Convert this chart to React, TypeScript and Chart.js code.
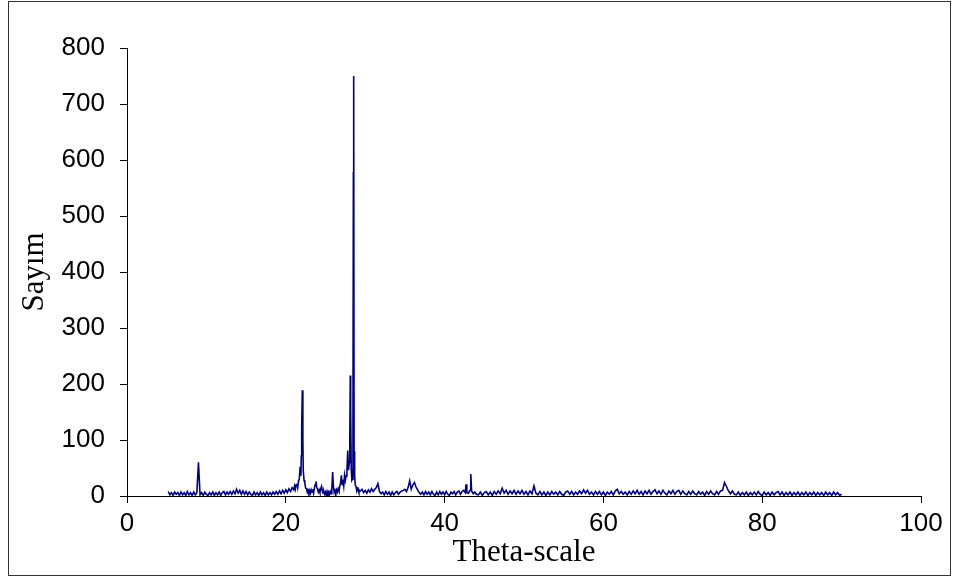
import React, { useEffect, useRef } from "react";
import { Chart, registerables } from "chart.js";

Chart.register(...registerables);

// ---- Data ----
const lowTheta = [
  5.2, 5.4, 5.6, 5.8, 6.0, 6.2, 6.4, 6.6, 6.8, 7.0,
  7.2, 7.4, 7.6, 7.8, 8.0, 8.2, 8.4, 8.6, 8.8, 9.0,
  9.2, 9.4, 9.6, 9.8, 10.0, 10.2, 10.4, 10.6, 10.8, 11.0,
  11.2, 11.4, 11.6, 11.8, 12.0, 12.2, 12.4, 12.6, 12.8, 13.0,
  13.2, 13.4, 13.6, 13.8, 14.0, 14.2, 14.4, 14.6, 14.8, 15.0,
  15.2, 15.4, 15.6, 15.8, 16.0, 16.2, 16.4, 16.6, 16.8, 17.0,
  17.2, 17.4, 17.6, 17.8, 18.0, 18.2, 18.4, 18.6, 18.8, 19.0,
  19.2, 19.4, 19.6, 19.8, 20.0, 20.2, 20.4, 20.6, 20.8,
];
const lowCounts = [
  8, 2, 6, 1, 7, 3, 6, 1, 7, 2,
  6, 1, 8, 2, 6, 1, 7, 2, 6, 60,
  2, 6, 1, 7, 3, 1, 6, 2, 7, 1,
  6, 2, 7, 1, 6, 8, 2, 7, 3, 8,
  3, 9, 4, 12, 5, 10, 3, 9, 3, 8,
  2, 7, 3, 1, 7, 2, 6, 1, 7, 2,
  6, 1, 7, 2, 6, 2, 7, 3, 8, 3,
  9, 4, 10, 5, 11, 6, 13, 8, 15,
];

const peakTheta = [
  21.0, 21.1, 21.2, 21.3, 21.4, 21.5, 21.6, 21.7, 21.8, 21.9,
  21.95, 22.0, 22.08, 22.15, 22.2, 22.3, 22.4, 22.5, 22.6, 22.7,
  22.8, 22.9, 23.0, 23.1, 23.2, 23.3, 23.4, 23.5, 23.6, 23.7,
  23.8, 23.9, 24.0, 24.1, 24.2, 24.3, 24.4, 24.5, 24.6, 24.7,
  24.8, 24.9, 25.0, 25.1, 25.2, 25.3, 25.4, 25.5, 25.6, 25.7,
  25.8, 25.9, 26.0, 26.1, 26.2, 26.3, 26.4, 26.5, 26.6, 26.7,
  26.8, 26.9, 27.0, 27.1, 27.2, 27.3, 27.4, 27.5, 27.6, 27.7,
  27.8, 27.9, 28.0, 28.06, 28.12, 28.17, 28.24, 28.32, 28.4, 28.46,
  28.51, 28.55, 28.6, 28.67, 28.75, 28.85, 28.95, 29.1, 29.2,
];
const peakCounts = [
  11, 18, 12, 20, 22, 15, 27, 30, 52, 36,
  72, 120, 189, 98, 45, 28, 23, 14, 13, 7,
  11, 6, 10, 5, 11, 7, 12, 5, 14, 20,
  26, 15, 12, 7, 11, 6, 13, 17, 9, 5,
  8, 3, 7, 2, 8, 3, 7, 2, 8, 4,
  12, 43, 16, 6, 10, 5, 11, 7, 13, 9,
  18, 24, 37, 20, 29, 18, 37, 28, 36, 45,
  81, 46, 60, 100, 215, 153, 48, 28, 30, 120,
  577, 750, 80, 35, 20, 16, 9, 13, 7,
];

const midTheta = [
  29.4, 29.6, 29.8, 30.0, 30.2, 30.4, 30.6, 30.8, 31.0, 31.2,
  31.4, 31.6, 31.8, 32.0, 32.2, 32.4, 32.6, 32.8, 33.0, 33.2,
  33.4, 33.6, 33.8, 34.0, 34.2, 34.4, 34.6, 34.8, 35.0, 35.2,
  35.4, 35.6, 35.8, 36.0, 36.2, 36.4, 36.6, 36.8, 37.0, 37.2,
  37.4, 37.6, 37.8, 38.0, 38.2, 38.4, 38.6, 38.8, 39.0, 39.2,
  39.4, 39.6, 39.8, 40.0, 40.2, 40.4, 40.6, 40.8, 41.0, 41.2,
  41.4, 41.6, 41.8, 42.0, 42.2, 42.4, 42.6, 42.7, 42.8, 43.0,
  43.2, 43.3, 43.4, 43.6, 43.8, 44.0,
];
const midCounts = [
  9, 12, 6, 10, 5, 11, 7, 13, 8, 12,
  15, 22, 8, 4, 7, 2, 8, 3, 7, 1,
  7, 2, 6, 8, 3, 7, 9, 10, 12, 8,
  15, 27, 12, 20, 24, 16, 11, 6, 3, 7,
  2, 8, 3, 7, 2, 8, 3, 1, 7, 2,
  8, 3, 7, 2, 8, 3, 1, 7, 4, 8,
  2, 7, 9, 3, 8, 10, 6, 21, 6, 5,
  10, 39, 9, 4, 7, 3,
];

const highTheta = [
  44.25, 44.5, 44.75, 45.0, 45.25, 45.5, 45.75, 46.0, 46.25, 46.5,
  46.75, 47.0, 47.25, 47.5, 47.75, 48.0, 48.25, 48.5, 48.75, 49.0,
  49.25, 49.5, 49.75, 50.0, 50.25, 50.5, 50.75, 51.0, 51.25, 51.5,
  51.75, 52.0, 52.25, 52.5, 52.75, 53.0, 53.25, 53.5, 53.75, 54.0,
  54.25, 54.5, 54.75, 55.0, 55.25, 55.5, 55.75, 56.0, 56.25, 56.5,
  56.75, 57.0, 57.25, 57.5, 57.75, 58.0, 58.25, 58.5, 58.75, 59.0,
  59.25, 59.5, 59.75, 60.0, 60.25, 60.5, 60.75, 61.0, 61.25, 61.5,
  61.75, 62.0, 62.25, 62.5, 62.75, 63.0, 63.25, 63.5, 63.75, 64.0,
  64.25, 64.5, 64.75, 65.0, 65.25, 65.5, 65.75, 66.0, 66.25, 66.5,
  66.75, 67.0, 67.25, 67.5, 67.75, 68.0, 68.25, 68.5, 68.75, 69.0,
  69.25, 69.5, 69.75, 70.0, 70.25, 70.5, 70.75, 71.0, 71.25, 71.5,
  71.75, 72.0, 72.25, 72.5, 72.75, 73.0, 73.25, 73.5, 73.75, 74.0,
  74.25, 74.5, 74.75, 75.0, 75.25, 75.5, 75.75, 76.0, 76.25, 76.5,
  76.75, 77.0, 77.25, 77.5, 77.75, 78.0, 78.25, 78.5, 78.75, 79.0,
  79.25, 79.5, 79.75, 80.0, 80.25, 80.5, 80.75, 81.0, 81.25, 81.5,
  81.75, 82.0, 82.25, 82.5, 82.75, 83.0, 83.25, 83.5, 83.75, 84.0,
  84.25, 84.5, 84.75, 85.0, 85.25, 85.5, 85.75, 86.0, 86.25, 86.5,
  86.75, 87.0, 87.25, 87.5, 87.75, 88.0, 88.25, 88.5, 88.75, 89.0,
  89.25, 89.5, 89.75, 90.0,
];
const highCounts = [
  2, 7, 1, 6, 8, 2, 7, 1, 8, 3,
  9, 4, 14, 5, 10, 3, 9, 4, 10, 3,
  9, 4, 10, 3, 8, 2, 9, 4, 18, 5,
  2, 8, 2, 7, 1, 7, 2, 8, 3, 7,
  2, 8, 3, 1, 7, 9, 3, 8, 2, 7,
  3, 9, 4, 11, 5, 10, 3, 7, 2, 8,
  3, 8, 2, 7, 1, 7, 3, 8, 2, 9,
  12, 4, 8, 3, 7, 2, 8, 3, 9, 4,
  10, 3, 8, 2, 9, 4, 10, 3, 8, 11,
  4, 9, 3, 10, 5, 2, 9, 4, 10, 3,
  8, 10, 3, 9, 4, 2, 8, 3, 9, 4,
  2, 8, 3, 7, 1, 8, 3, 9, 4, 2,
  8, 3, 9, 10, 24, 17, 9, 4, 9, 3,
  2, 7, 1, 6, 2, 7, 1, 6, 2, 7,
  2, 8, 3, 1, 7, 2, 6, 1, 7, 2,
  6, 8, 2, 7, 1, 6, 2, 7, 1, 6,
  2, 7, 1, 6, 2, 7, 1, 6, 2, 7,
  1, 6, 2, 6, 1, 7, 2, 6, 1, 7,
  2, 6, 1, 3,
];

const xTickStep = 20;
const yTickStep = 100;
const xTitle = "Theta-scale";
const yTitle = "Sayım";

function buildPoints() {
  const thetas = [...lowTheta, ...peakTheta, ...midTheta, ...highTheta];
  const counts = [...lowCounts, ...peakCounts, ...midCounts, ...highCounts];
  return thetas.map((x, i) => ({ x, y: counts[i] }));
}

const frameBorder = {
  id: "frameBorder",
  afterDraw(chart: any) {
    const ctx = chart.ctx;
    ctx.save();
    ctx.strokeStyle = "#333333";
    ctx.lineWidth = 1;
    ctx.strokeRect(8.5, 1.5, 942, 574);
    ctx.restore();
  },
};

export default function App() {
  const ref = useRef<HTMLCanvasElement | null>(null);

  useEffect(() => {
    if (!ref.current) return;
    const tickFont = { family: '"Liberation Sans", Arial, sans-serif', size: 26 };
    const titleFont = { family: '"Liberation Serif", "Times New Roman", serif', size: 31 };
    const chart = new Chart(ref.current, {
      type: "line",
      data: {
        datasets: [
          {
            data: buildPoints(),
            borderColor: "#000080",
            borderWidth: 1.6,
            pointRadius: 0,
            tension: 0,
            fill: false,
          },
        ],
      },
      options: {
        animation: false,
        responsive: false,
        maintainAspectRatio: false,
        layout: { padding: { top: 48, right: 33, left: 0, bottom: 0 } },
        plugins: { legend: { display: false }, tooltip: { enabled: false } },
        scales: {
          x: {
            type: "linear",
            min: 0,
            max: 100,
            ticks: { stepSize: xTickStep, font: tickFont, color: "#000", padding: 5, maxRotation: 0 },
            grid: { drawOnChartArea: false, drawTicks: true, tickLength: 7, color: "#000" },
            border: { color: "#000", width: 1 },
            title: { display: true, text: xTitle, font: titleFont, color: "#000", padding: { top: 0, bottom: 7 } },
            afterFit: (s: any) => {
              s.height = 82;
            },
          },
          y: {
            type: "linear",
            min: 0,
            max: 800,
            ticks: { stepSize: yTickStep, font: tickFont, color: "#000", padding: 15 },
            grid: { drawOnChartArea: false, drawTicks: true, tickLength: 7, color: "#000" },
            border: { color: "#000", width: 1 },
            title: { display: true, text: yTitle, font: titleFont, color: "#000", padding: { top: 16, bottom: 0 } },
            afterFit: (s: any) => {
              s.width = 127;
            },
          },
        },
      },
      plugins: [frameBorder],
    });
    return () => chart.destroy();
  }, []);

  return (
    <div style={{ position: "fixed", left: 0, top: 0, width: 954, height: 578, background: "#fff" }}>
      <canvas ref={ref} width={954} height={578} style={{ display: "block" }} />
    </div>
  );
}
